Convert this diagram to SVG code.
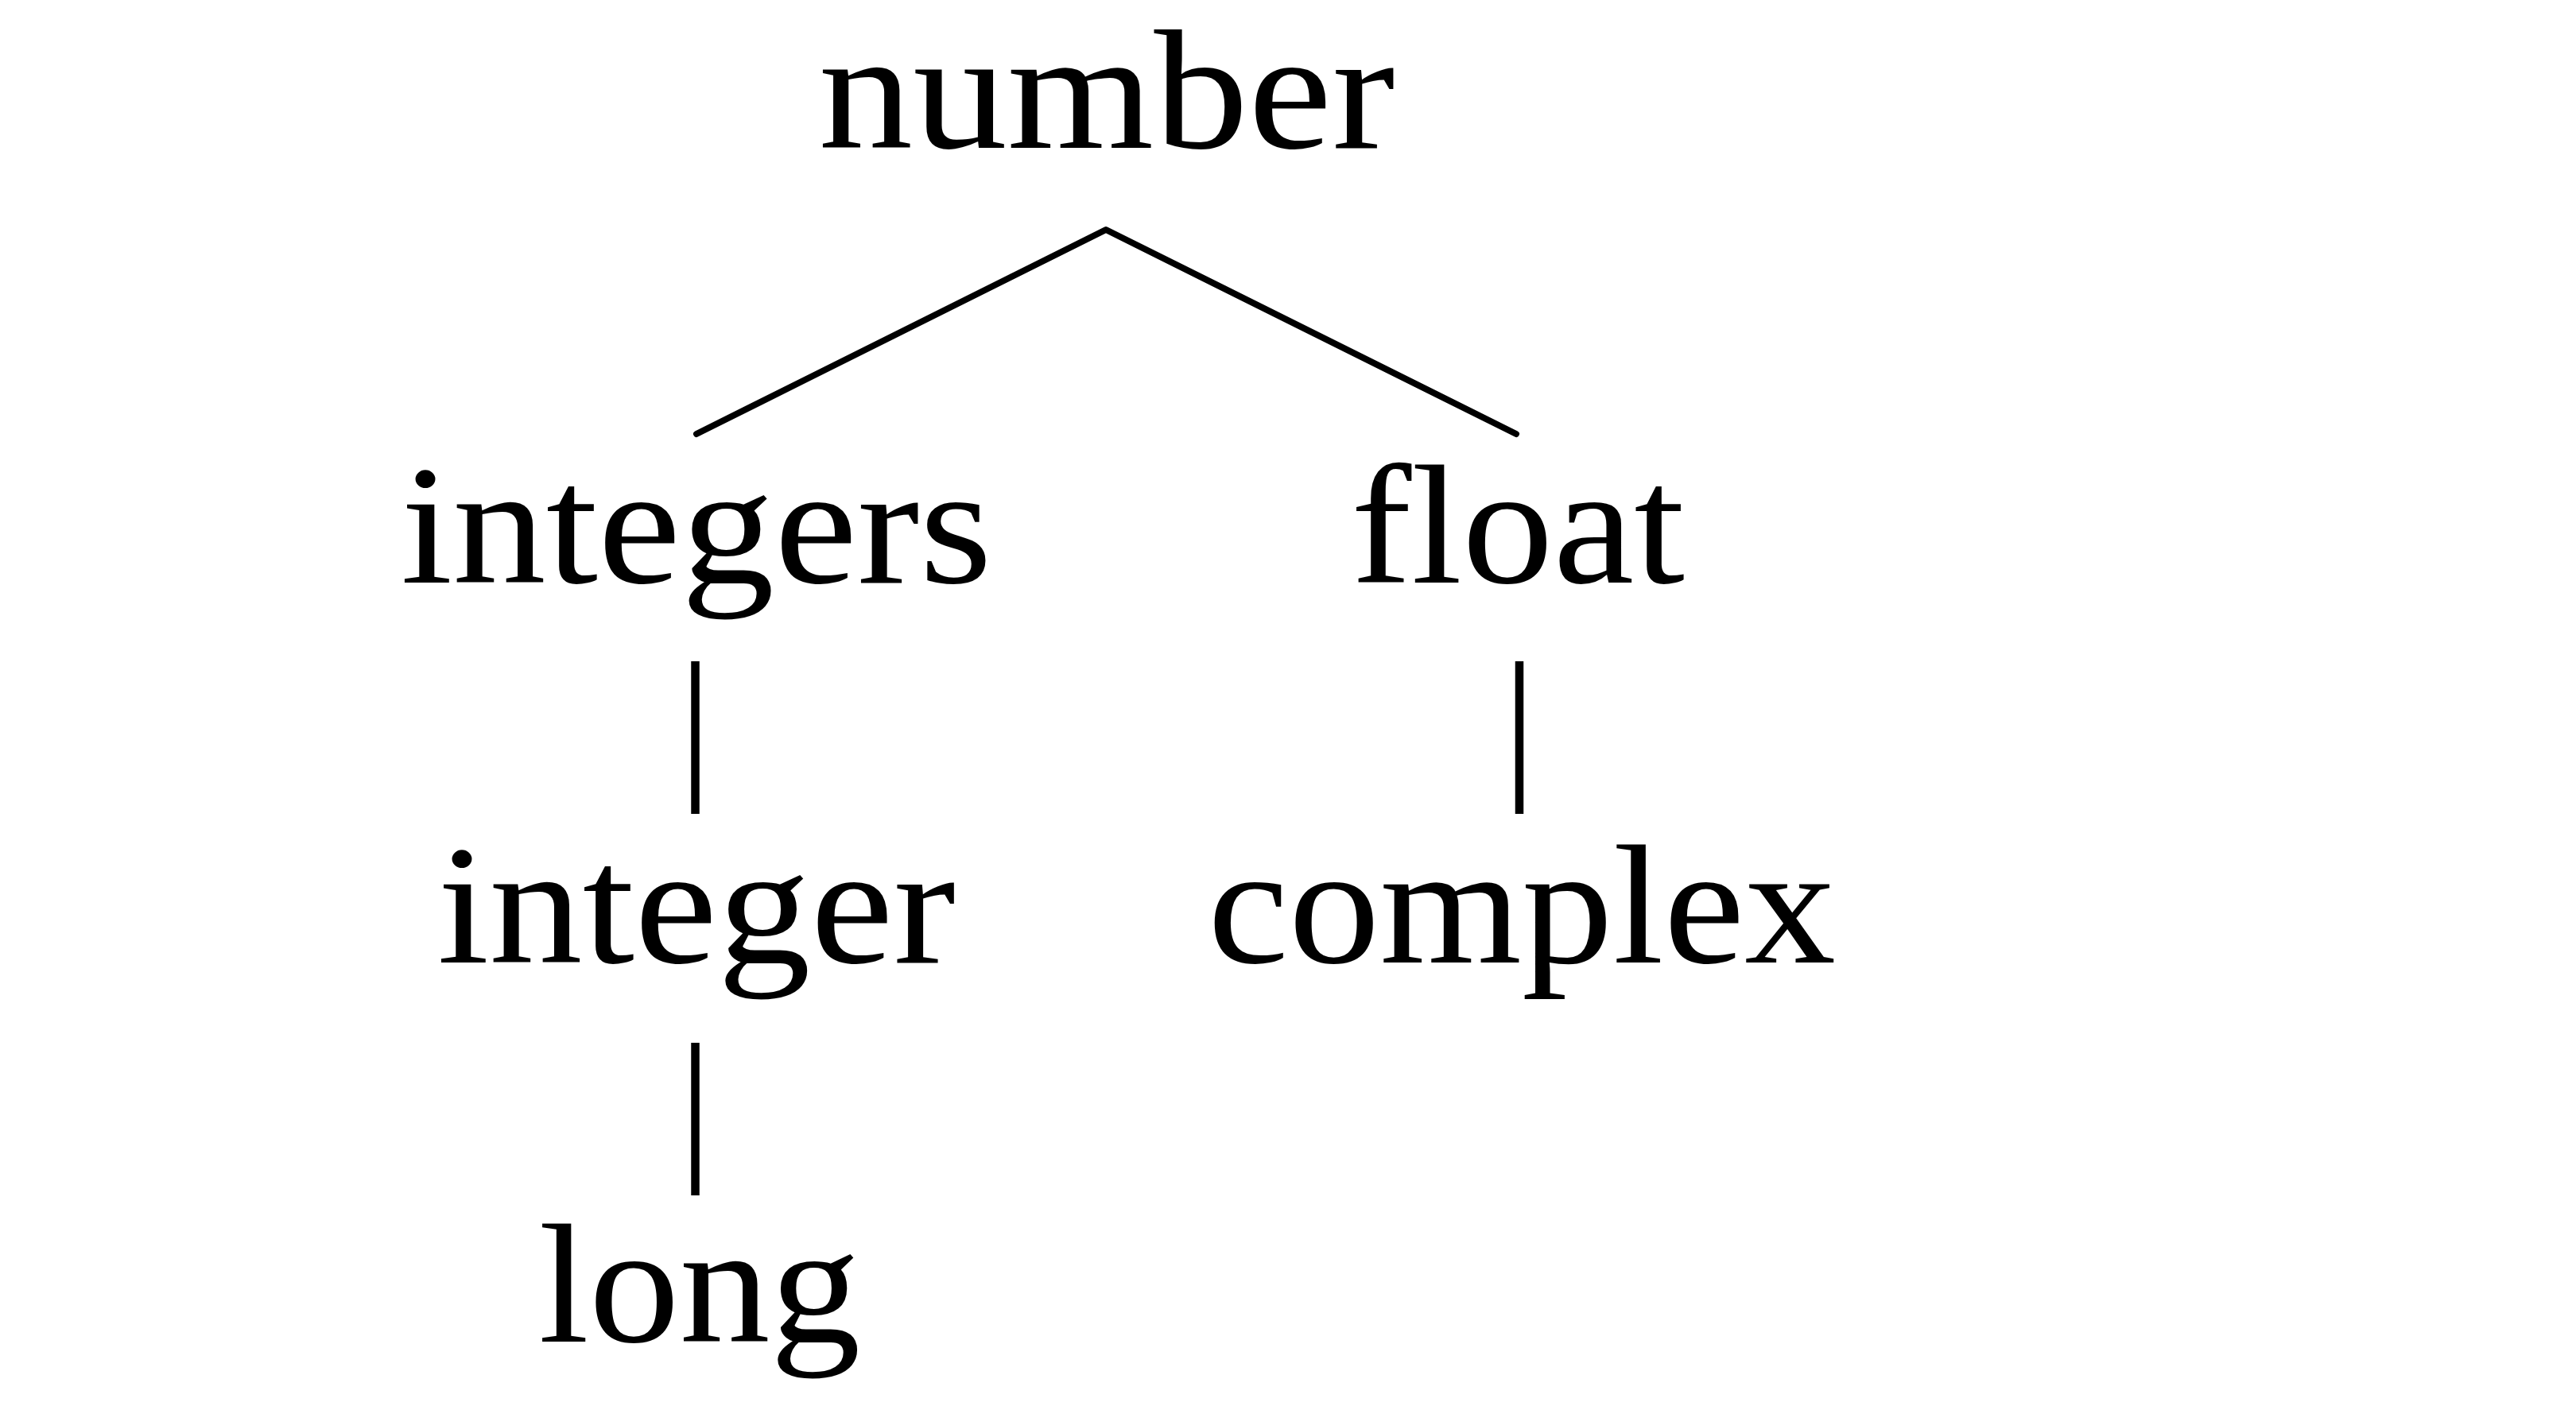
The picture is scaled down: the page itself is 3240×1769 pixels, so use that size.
<svg xmlns="http://www.w3.org/2000/svg" width="3240" height="1769" viewBox="0 0 3240 1769">
<style>
  .lbl { font-family: "Liberation Serif", "Times New Roman", serif; font-size: 215px; fill: #000; text-anchor: middle; }
  .diag { stroke: #000; stroke-width: 8; fill: none; stroke-linecap: round; stroke-linejoin: round; }
  .vert { stroke: #000; stroke-width: 10.5; fill: none; stroke-linecap: butt; }
</style>
<rect x="0" y="0" width="3240" height="1769" fill="#fff"/>
<g id="connectors">
  <polyline class="diag" points="876,546 1391,289 1907,546"/>
  <line class="vert" x1="874.5" y1="832" x2="874.5" y2="1024"/>
  <line class="vert" x1="1911" y1="832" x2="1911" y2="1024"/>
  <line class="vert" x1="874.5" y1="1312" x2="874.5" y2="1504"/>
</g>
<g id="node-number"><text class="lbl" x="1392" y="186" textLength="725" lengthAdjust="spacingAndGlyphs">number</text></g>
<g id="node-integers"><text class="lbl" x="876" y="733" textLength="744" lengthAdjust="spacingAndGlyphs">integers</text></g>
<g id="node-float"><text class="lbl" x="1909" y="733" textLength="420" lengthAdjust="spacingAndGlyphs">float</text></g>
<g id="node-integer"><text class="lbl" x="876" y="1211" textLength="652" lengthAdjust="spacingAndGlyphs">integer</text></g>
<g id="node-complex"><text class="lbl" x="1914" y="1211" textLength="790" lengthAdjust="spacingAndGlyphs">complex</text></g>
<g id="node-long"><text class="lbl" x="880" y="1688" textLength="405" lengthAdjust="spacingAndGlyphs">long</text></g>
</svg>
